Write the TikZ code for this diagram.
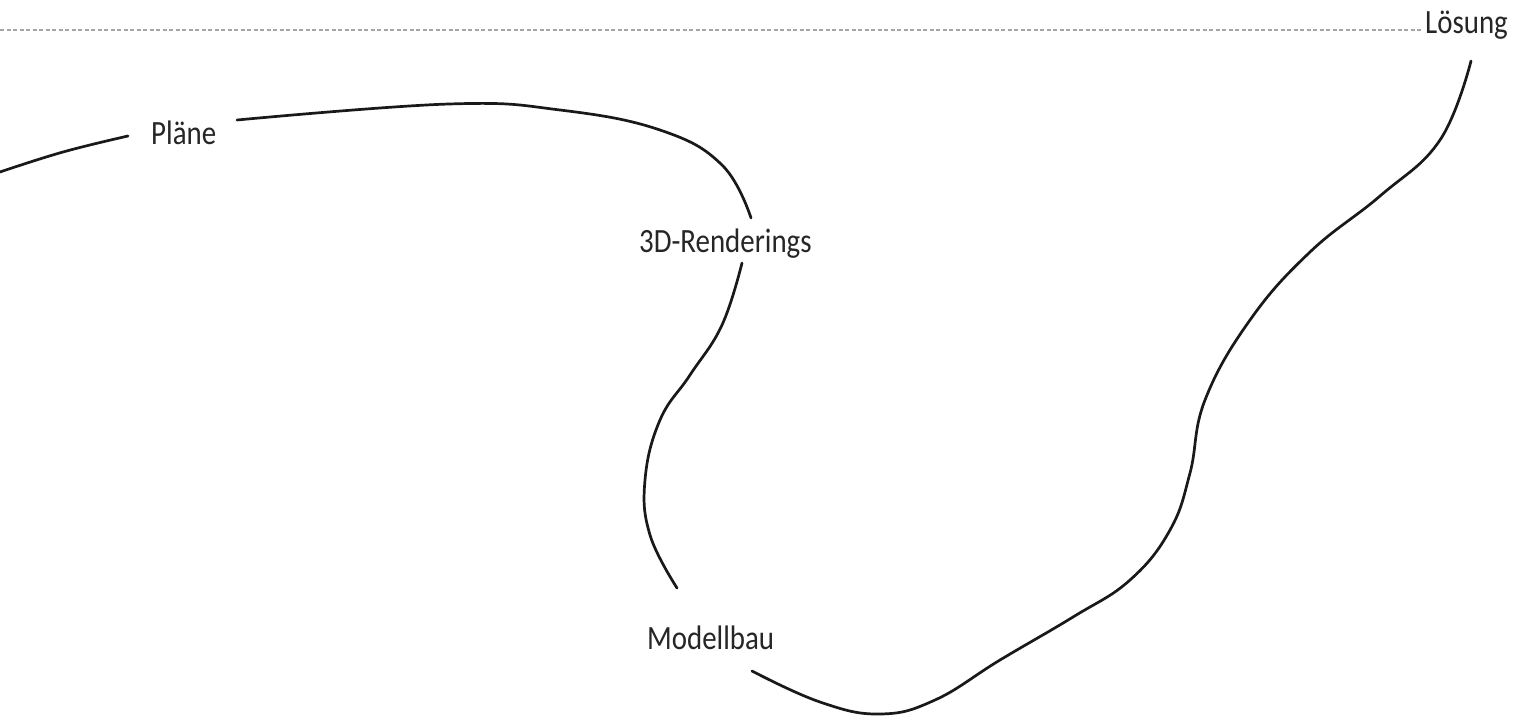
\documentclass[tikz,border=0pt]{standalone}
\usepackage{fontspec}
\setmainfont{Carlito}[FakeStretch=0.85]
\begin{document}
\begin{tikzpicture}[x=1pt,y=-1pt,
  lbl/.style={anchor=base west,inner sep=0pt,text=black!85,font=\fontsize{34}{40}\selectfont},
  path/.style={line width=2.7pt,line cap=round,black!90},
  goal/.style={gray!70,line width=1.3pt,dash pattern=on 4pt off 2.5pt}]
\useasboundingbox[fill=white] (0,0) rectangle (1517,718);

% labels along the path
\node[lbl] (plaene) at (151,144) {Pläne};
\node[lbl] (render) at (639,252) {3D-Renderings};
\node[lbl] (modell) at (647,649) {Modellbau};
\node[lbl] (loesung) at (1425,33) {Lösung};

% goal line
\coordinate (goalstart) at (0,30);
\draw[goal] (goalstart) -- ([xshift=-3pt]loesung.west |- 0,30);

% meandering path, interrupted at each label
\draw[path] plot[smooth,tension=0.7] coordinates {(0,172) (63,152) (128,136)};
\draw[path] plot[smooth,tension=0.7] coordinates {(237,120) (449,104) (560,110) (660,130) (722,165) (751,218)};
\draw[path] plot[smooth,tension=0.7] coordinates {(742,263) (722,325) (690,375) (660,420) (645,480) (650,535) (677,588)};
\draw[path] plot[smooth,tension=0.7] coordinates {(752,671) (820,702) (880,714) (935,700) (1000,660) (1073,617) (1130,580) (1170,530) (1190,473) (1205,400) (1250,320) (1310,252) (1380,196) (1440,140) (1471,61)};
\end{tikzpicture}
\end{document}
